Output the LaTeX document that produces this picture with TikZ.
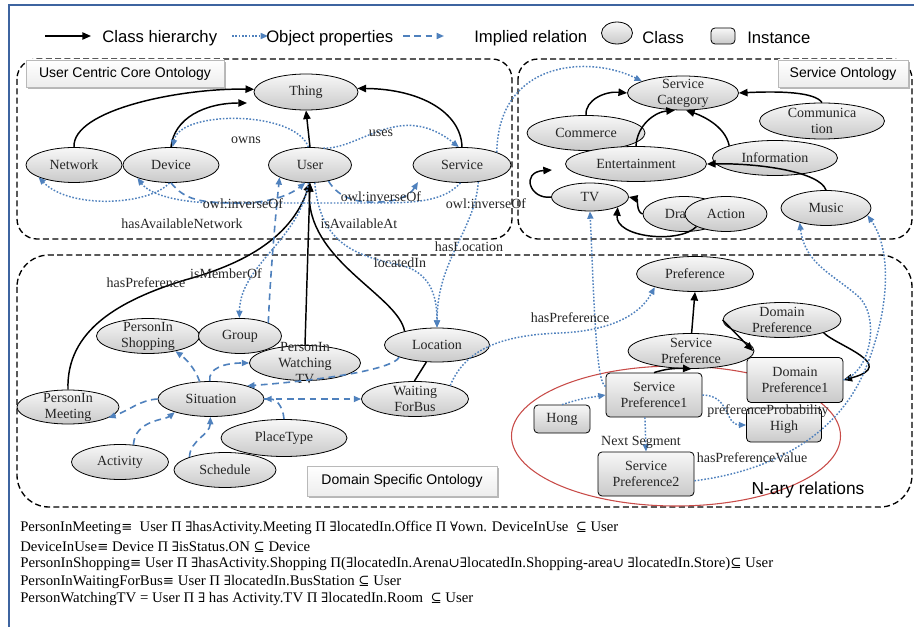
\documentclass[tikz,border=0pt]{standalone}
\usepackage{fontspec}
\setmainfont{Liberation Serif}
\newfontfamily\sansf{Liberation Sans}
\newfontfamily\symf[Scale=0.9]{DejaVu Serif}
\usetikzlibrary{arrows.meta,shapes.geometric,shadows}
\definecolor{bprop}{RGB}{79,129,189}
\definecolor{bord}{RGB}{62,100,160}
\definecolor{nred}{RGB}{200,75,72}
\newcommand\myeq{{\symf ≡}}
\newcommand\myex{{\symf ∃}}
\newcommand\myall{{\symf ∀}}
\newcommand\mysub{{\symf ⊆}}
\newcommand\mycup{{\symf ∪}}
\begin{document}
\begin{tikzpicture}[x=0.75pt,y=-0.75pt,
  cls/.style 2 args={ellipse, draw=black, line width=0.6pt, top color=gray!6, bottom color=gray!42,
     minimum width=#1*0.75pt, minimum height=#2*0.75pt, inner sep=0pt},
  inst/.style 2 args={rectangle, rounded corners=3pt, draw=black, line width=0.6pt, top color=gray!6, bottom color=gray!42,
     minimum width=#1*0.75pt, minimum height=#2*0.75pt, inner sep=0pt},
  ntxt/.style={font=\fontsize{10.5}{12}\selectfont, align=center, text=black!85, inner sep=0pt},
  elbl/.style={font=\fontsize{10.5}{12}\selectfont, text=black!85, inner sep=0pt},
  hier/.style={-{Triangle[length=6.5pt,width=5.5pt]}, line width=1.1pt, black},
  hierl/.style={line width=1.1pt, black},
  objp/.style={-{Triangle[length=5.5pt,width=4.5pt]}, line width=1.1pt, bprop, dash pattern=on 1.2pt off 1.3pt},
  impl/.style={-{Triangle[length=5.5pt,width=4.5pt]}, line width=1.2pt, bprop, dash pattern=on 5pt off 3.5pt},
  frame/.style={line width=1pt, black, dash pattern=on 4.5pt off 2.5pt},
  boxlbl/.style={draw=gray!55, top color=white, bottom color=gray!14, inner sep=0pt,
     font=\sansf\fontsize{10.5}{12}\selectfont,
     drop shadow={shadow xshift=1.3pt, shadow yshift=-1.3pt, fill=gray!70, opacity=0.8}},
  legtxt/.style={font=\sansf\fontsize{12.5}{14}\selectfont, inner sep=0pt, anchor=west},
  formula/.style={font=\fontsize{11}{12}\selectfont, inner sep=0pt, anchor=west}
]
\useasboundingbox (0,0) rectangle (914,627);
\fill[white] (0,0) rectangle (914,627);
\draw[bord, line width=2.2pt] (9,627) -- (9,5) -- (914,5);

% frames
\draw[frame, rounded corners=15pt] (17,59) rectangle (512,239);
\draw[frame, rounded corners=15pt] (518,59) rectangle (912,239);
\draw[frame, rounded corners=24pt] (17,255) rectangle (912,507);

% n-ary ellipse
\node[draw=nred, line width=0.8pt, ellipse, minimum width=329*0.75pt, minimum height=140*0.75pt, inner sep=0pt] (nary) at (676,436) {};

% core nodes
\node[cls={104}{36}, label={[ntxt]center:Thing}] (thing) at (306,92) {};
\node[cls={96}{35}, label={[ntxt]center:Network}] (network) at (74,165) {};
\node[cls={96}{35}, label={[ntxt]center:Device}] (device) at (171,165) {};
\node[cls={83}{35}, label={[ntxt]center:User}] (user) at (310,165) {};
\node[cls={98}{35}, label={[ntxt]center:Service}] (service) at (462,165) {};

% service ontology nodes
\node[cls={111}{34}, label={[ntxt]center:{Service\\Category}}] (scat) at (683,93) {};
\node[cls={118}{35}, label={[ntxt]center:Commerce}] (commerce) at (586,133) {};
\node[cls={125}{36}, label={[ntxt]center:{Communica\\tion}}] (comm) at (822,121) {};
\node[cls={141}{35}, label={[ntxt]center:Entertainment}] (ent) at (636,164) {};
\node[cls={125}{35}, label={[ntxt]center:Information}] (info) at (775,158) {};
\node[cls={77}{28}, label={[ntxt]center:TV}] (tv) at (590,197) {};
\node[cls={82}{35}, label={[ntxt]center:Drama}] (drama) at (684,214) {};
\node[cls={82}{35}, label={[ntxt]center:Action}] (action) at (726,214) {};
\node[cls={90}{35}, label={[ntxt]center:Music}] (music) at (826,208) {};

% domain nodes
\node[cls={103}{35}, label={[ntxt]center:{PersonIn\\Shopping}}] (pshop) at (148,336) {};
\node[cls={83}{35}, label={[ntxt]center:Group}] (group) at (240,336) {};
\node[cls={111}{35}, label={[ntxt]center:{PersonIn\\Watching\\TV}}] (pwtv) at (305,363) {};
\node[cls={105}{34}, label={[ntxt]center:Location}] (location) at (437,345) {};
\node[cls={107}{35}, label={[ntxt]center:{Waiting\\ForBus}}] (wfb) at (415,399) {};
\node[cls={102}{34}, label={[ntxt]center:{PersonIn\\Meeting}}] (pmeet) at (68,407) {};
\node[cls={106}{35}, label={[ntxt]center:Situation}] (situation) at (211,399) {};
\node[cls={126}{37}, label={[ntxt]center:PlaceType}] (placetype) at (284,438) {};
\node[cls={97}{35}, label={[ntxt]center:Activity}] (activity) at (120,462) {};
\node[cls={102}{35}, label={[ntxt]center:Schedule}] (schedule) at (225,470) {};

% preference nodes
\node[cls={117}{35}, label={[ntxt]center:Preference}] (pref) at (695,274) {};
\node[cls={118}{35}, label={[ntxt]center:{Domain\\Preference}}] (dompref) at (782,320) {};
\node[cls={126}{35}, label={[ntxt]center:{Service\\Preference}}] (servpref) at (691,351) {};
\node[inst={96}{45}, label={[ntxt]center:{Domain\\Preference1}}] (dp1) at (795,380) {};
\node[inst={96}{44}, label={[ntxt]center:{Service\\Preference1}}] (sp1) at (654,395) {};
\node[inst={56}{28}, label={[ntxt]center:Hong}] (hong) at (562,419) {};
\node[inst={75}{34}, label={[ntxt,yshift=-1.5pt]center:High}] (high) at (784,425) {};
\node[inst={96}{44}, label={[ntxt]center:{Service\\Preference2}}] (sp2) at (646,474) {};

% box labels
\node[boxlbl, minimum width=198*0.75pt, minimum height=27*0.75pt] (lblcore) at (125,73.5) {User Centric Core Ontology};
\node[boxlbl, minimum width=130*0.75pt, minimum height=27*0.75pt] (lblserv) at (843,73.5) {Service Ontology};
\node[boxlbl, minimum width=190*0.75pt, minimum height=30*0.75pt] (lbldom) at (402,481) {Domain Specific Ontology};
\node[font=\sansf\fontsize{13}{15}\selectfont, inner sep=0pt] (narytxt) at (808,490) {N-ary relations};

% free ends
\coordinate (devtip) at (247,103);
\coordinate (tvent) at (552,170);
\coordinate (dptip) at (753,351);
\coordinate (svcin) at (418,182);

% class hierarchy
\draw[hier] (network.90) .. controls (72,110) and (180,88) .. (thing.177);
\draw[hier] (device.90) .. controls (174,118) and (205,103) .. (devtip);
\draw[hier] (user.90) -- (thing.270);
\draw[hier] (service.90) .. controls (461,112) and (420,89) .. (thing.4);
\draw[hier] (commerce.90) .. controls (585,100) and (605,91) .. (scat.180);
\draw[hier] (ent.90) .. controls (637,125) and (655,112) .. (scat.245);
\draw[hier] (info.165) .. controls (725,125) and (700,115) .. (scat.280);
\draw[hier] (comm.90) .. controls (815,92) and (780,91) .. (scat.east);
\draw[hier] (music.90) .. controls (820,172) and (760,163) .. (ent.east);
\draw[hier] (tv.west) .. controls (530,200) and (520,172) .. (tvent);
\draw[hier] (drama.180) .. controls (636,212) and (638,199) .. (tv.east);
\draw[hier] (action.203) .. controls (680,244) and (615,238) .. (tv.340);
\draw[hier] (pmeet.90) .. controls (66,330) and (120,300) .. (185,280) .. controls (240,265) and (290,240) .. (user.270);
\draw[hier] (pwtv.90) -- (user.270);
\draw[hier] (location.157) .. controls (398,295) and (305,260) .. (user.270);
\draw[hierl] (wfb.92) -- (location.238);
\draw[hier] (servpref.88) -- (pref.270);
\draw[hier] (dompref.west) -- (dptip);
\draw[hier] (dompref.343) .. controls (835,345) and (900,365) .. (dp1.east);
\draw[hier] (sp1.north) .. controls (665,369) and (675,368) .. (servpref.272);

% object properties
\draw[objp] (user.95) .. controls (295,110) and (180,110) .. (device.85);
\draw[objp] (user.52) .. controls (360,150) and (400,100) .. (service.100);
\draw[objp] (device.265) .. controls (150,205) and (70,210) .. (network.199);
\draw[objp] (service.265) .. controls (445,200) and (420,203) .. (380,203) -- (220,203) .. controls (180,203) and (150,195) .. (device.201);
\draw[objp] (user.265) .. controls (300,240) and (240,265) .. (group.92);
\draw[objp] (user.285) .. controls (320,240) and (350,255) .. (400,265) .. controls (430,272) and (437,295) .. (location.90);
\draw[objp] (service.314) .. controls (475,230) and (437,260) .. (location.90);
\draw[objp] (service.20) .. controls (498,60) and (590,55) .. (scat.164);
\draw[objp] (wfb.21) .. controls (465,350) and (500,335) .. (560,333) .. controls (610,331) and (640,315) .. (pref.198);
\draw[objp] (sp1.170) .. controls (596,384) and (594,300) .. (tv.270);
\draw[objp] (hong.north) .. controls (580,399) .. (sp1.west);
\draw[objp] (sp1.248) -- (sp2.north);
\draw[objp] (sp1.east) .. controls (730,395) and (725,425) .. (high.west);
\draw[objp] (sp2.352) .. controls (780,470) and (840,430) .. (865,370) .. controls (890,310) and (892,250) .. (music.350);
\draw[objp] (dp1.east) .. controls (870,372) and (880,320) .. (860,298) .. controls (835,275) and (805,265) .. (music.209);

% implied relations
\draw[impl] (user.319) .. controls (340,200) and (360,203) .. (380,202) .. controls (400,201) and (410,195) .. (svcin);
\draw[impl] (device.270) .. controls (185,200) and (200,203) .. (240,203) .. controls (270,203) and (290,195) .. (user.255);
\draw[impl] (group.25) .. controls (270,280) and (275,220) .. (user.202);
\draw[impl] (situation.94) .. controls (208,368) and (225,363) .. (pwtv.west);
\draw[impl] (situation.123) .. controls (195,368) and (185,358) .. (pshop.331);
\draw[impl] (location.198) .. controls (390,372) and (300,382) .. (situation.20);
\draw[impl] (situation.180) .. controls (140,400) and (130,410) .. (pmeet.345);
\draw[impl] (activity.52) .. controls (135,420) and (165,420) .. (situation.200);
\draw[impl] (schedule.160) .. controls (190,440) and (210,435) .. (situation.268);
\draw[impl] (placetype.90) .. controls (283,405) and (275,399) .. (situation.east);
\draw[impl] (situation.east) -- (wfb.west);

% edge labels
\node[elbl] (lowns) at (246,140) {owns};
\node[elbl] (luses) at (381,133) {uses};
\node[elbl] (linv1) at (243,204) {owl:inverseOf};
\node[elbl] (linv2) at (381,197) {owl:inverseOf};
\node[elbl] (linv3) at (486,204) {owl:inverseOf};
\node[elbl] (lhan) at (182,224) {hasAvailableNetwork};
\node[elbl] (liaa) at (359,224) {isAvailableAt};
\node[elbl] (lhasloc) at (469,247) {hasLocation};
\node[elbl] (lloc) at (400,263) {locatedIn};
\node[elbl] (lhp1) at (146,283) {hasPreference};
\node[elbl] (lmem) at (226,274) {isMemberOf};
\node[elbl] (lhp2) at (570,318) {hasPreference};
\node[elbl] (lprob) at (768,411) {preferenceProbability};
\node[elbl] (lnext) at (641,442) {Next Segment};
\node[elbl] (lval) at (752,458) {hasPreferenceValue};

% legend
\coordinate (lg1a) at (45,36); \coordinate (lg1b) at (91,36);
\draw[hier] (lg1a) -- (lg1b);
\node[legtxt] (lgt1) at (102,38) {Class hierarchy};
\coordinate (lg2a) at (232,36); \coordinate (lg2b) at (268,36);
\draw[objp] (lg2a) -- (lg2b);
\node[legtxt] (lgt2) at (266,38) {Object properties};
\coordinate (lg3a) at (403,36); \coordinate (lg3b) at (444,36);
\draw[impl] (lg3a) -- (lg3b);
\node[legtxt] (lgt3) at (474,38) {Implied relation};
\node[cls={31}{22}] (legcls) at (617,33) {};
\node[legtxt] (lgt4) at (642,38) {Class};
\node[inst={24}{16}] (leginst) at (723,36) {};
\node[legtxt] (lgt5) at (747,38) {Instance};

% formulas
\node[formula] (f1) at (20,528) {\resizebox{448.5pt}{\height}{PersonInMeeting\myeq{}\ \ User Π \myex hasActivity.Meeting Π \myex locatedIn.Office Π \myall own. DeviceInUse \ \mysub{} User}};
\node[formula] (f2) at (20,547) {\resizebox{217.5pt}{\height}{DeviceInUse\myeq{} Device Π \myex isStatus.ON \mysub{} Device}};
\node[formula] (f3) at (20,564) {\resizebox{564.75pt}{\height}{PersonInShopping\myeq{} User Π \myex hasActivity.Shopping Π(\myex locatedIn.Arena\mycup\myex locatedIn.Shopping-area\mycup{} \myex locatedIn.Store)\mysub{} User}};
\node[formula] (f4) at (20,582) {\resizebox{285.75pt}{\height}{PersonInWaitingForBus\myeq{} User Π \myex locatedIn.BusStation \mysub{} User}};
\node[formula] (f5) at (20,599) {\resizebox{339.75pt}{\height}{PersonWatchingTV = User Π \myex{} has Activity.TV Π \myex locatedIn.Room \ \mysub{} User}};
\end{tikzpicture}
\end{document}
